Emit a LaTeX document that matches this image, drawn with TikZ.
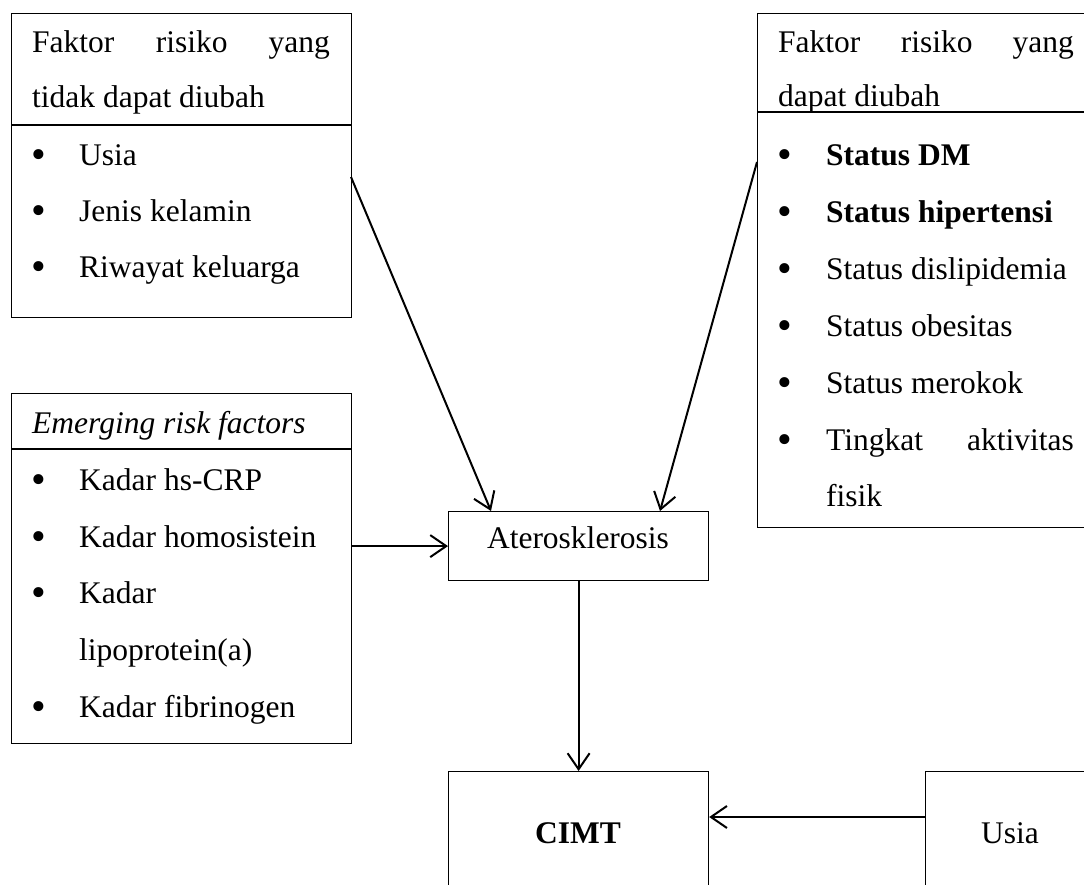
\documentclass[tikz,border=0pt]{standalone}
\usepackage{fontspec}
\setmainfont{Liberation Serif}
\usetikzlibrary{arrows.meta}
\begin{document}
\begin{tikzpicture}[x=1pt,y=-1pt,
 box/.style={draw,line width=1.2pt,inner sep=0pt,anchor=north west},
 txt/.style={inner sep=0pt,anchor=base west,font=\fontsize{31.5}{38}\selectfont},
 txte/.style={txt,anchor=base east},
 txtc/.style={txt,anchor=base},
 bul/.style={inner sep=0pt,anchor=base,yshift=-3pt,font=\fontsize{42}{44}\selectfont},
 conn/.style={line width=2pt,-{Straight Barb[length=16pt,width=22pt,line width=2pt]}},
 sep/.style={line width=1.6pt}]
\useasboundingbox (0,0) rectangle (1084,885);
\fill[white] (0,0) rectangle (1084,885);
\clip (0,0) rectangle (1084,885);

% boxes
\node[box,minimum width=340pt,minimum height=304pt] (b1) at (11,13) {};
\node[box,minimum width=340pt,minimum height=514pt] (b2) at (757,13) {};
\node[box,minimum width=340pt,minimum height=350pt] (emer) at (11,393) {};
\node[box,minimum width=260pt,minimum height=69pt] (ater) at (448,511) {};
\node[box,minimum width=260pt,minimum height=150pt] (cimt) at (448,771) {};
\node[box,minimum width=170pt,minimum height=150pt] (usia) at (925,771) {};

% separators
\draw[sep] (11,125) -- (351,125);
\draw[sep] (757,112) -- (1097,112);
\draw[sep] (11,449) -- (351,449);

% box 1 text
\node[txt] (b1h1a) at (32,53) {Faktor};
\node[txt] (b1h1b) at (155.6,53) {risiko};
\node[txte] (b1h1c) at (330,53) {yang};
\node[txt] (b1h2) at (32,108) {tidak dapat diubah};
\node[bul] (b1b1) at (39,166) {•};
\node[txt] (b1i1) at (79,166) {Usia};
\node[bul] (b1b2) at (39,222) {•};
\node[txt] (b1i2) at (79,222) {Jenis kelamin};
\node[bul] (b1b3) at (39,278) {•};
\node[txt] (b1i3) at (79,278) {Riwayat keluarga};

% box 2 text
\node[txt] (b2h1a) at (778,53) {Faktor};
\node[txt] (b2h1b) at (900.6,53) {risiko};
\node[txte] (b2h1c) at (1074,53) {yang};
\node[txt] (b2h2) at (778,107) {dapat diubah};
\node[bul] (b2b1) at (785,166) {•};
\node[txt,font=\fontsize{31.5}{38}\selectfont\bfseries] (b2i1) at (826,166) {Status DM};
\node[bul] (b2b2) at (785,222.8) {•};
\node[txt,font=\fontsize{31.5}{38}\selectfont\bfseries] (b2i2) at (826,222.8) {Status hipertensi};
\node[bul] (b2b3) at (785,279.6) {•};
\node[txt] (b2i3) at (826,279.6) {Status dislipidemia};
\node[bul] (b2b4) at (785,336.4) {•};
\node[txt] (b2i4) at (826,336.4) {Status obesitas};
\node[bul] (b2b5) at (785,393.2) {•};
\node[txt] (b2i5) at (826,393.2) {Status merokok};
\node[bul] (b2b6) at (785,450) {•};
\node[txt] (b2i6a) at (826,450) {Tingkat};
\node[txte] (b2i6b) at (1074,450) {aktivitas};
\node[txt] (b2i7) at (826,506.8) {fisik};

% emerging text
\node[txt,font=\fontsize{31.5}{38}\selectfont\itshape] (eh) at (32,433) {Emerging risk factors};
\node[bul] (eb1) at (39,490) {•};
\node[txt] (ei1) at (79,490) {Kadar hs-CRP};
\node[bul] (eb2) at (39,547) {•};
\node[txt] (ei2) at (79,547) {Kadar homosistein};
\node[bul] (eb3) at (39,603) {•};
\node[txt] (ei3) at (79,603) {Kadar};
\node[txt] (ei3b) at (79,660) {lipoprotein(a)};
\node[bul] (eb4) at (39,717) {•};
\node[txt] (ei4) at (79,717) {Kadar fibrinogen};

% centre texts
\node[txtc] (atert) at (578,548) {Aterosklerosis};
\node[txtc,font=\fontsize{31.5}{38}\selectfont\bfseries] (cimtt) at (578,843) {CIMT};
\node[txtc] (usiat) at (1010,843) {Usia};

% connector end points
\coordinate (b1out) at (351,177);
\coordinate (aterin1) at (491,511);
\coordinate (b2out) at (757,162);
\coordinate (aterin2) at (660,511);
\coordinate (usout) at (925,817);

% connectors
\draw[conn] (b1out) -- (aterin1);
\draw[conn] (b2out) -- (aterin2);
\draw[conn] (ater.west -| emer.east) -- (ater.west);
\draw[conn] (ater.south) -- (cimt.north);
\draw[conn] (usout) -- (usout -| cimt.east);
\end{tikzpicture}
\end{document}
